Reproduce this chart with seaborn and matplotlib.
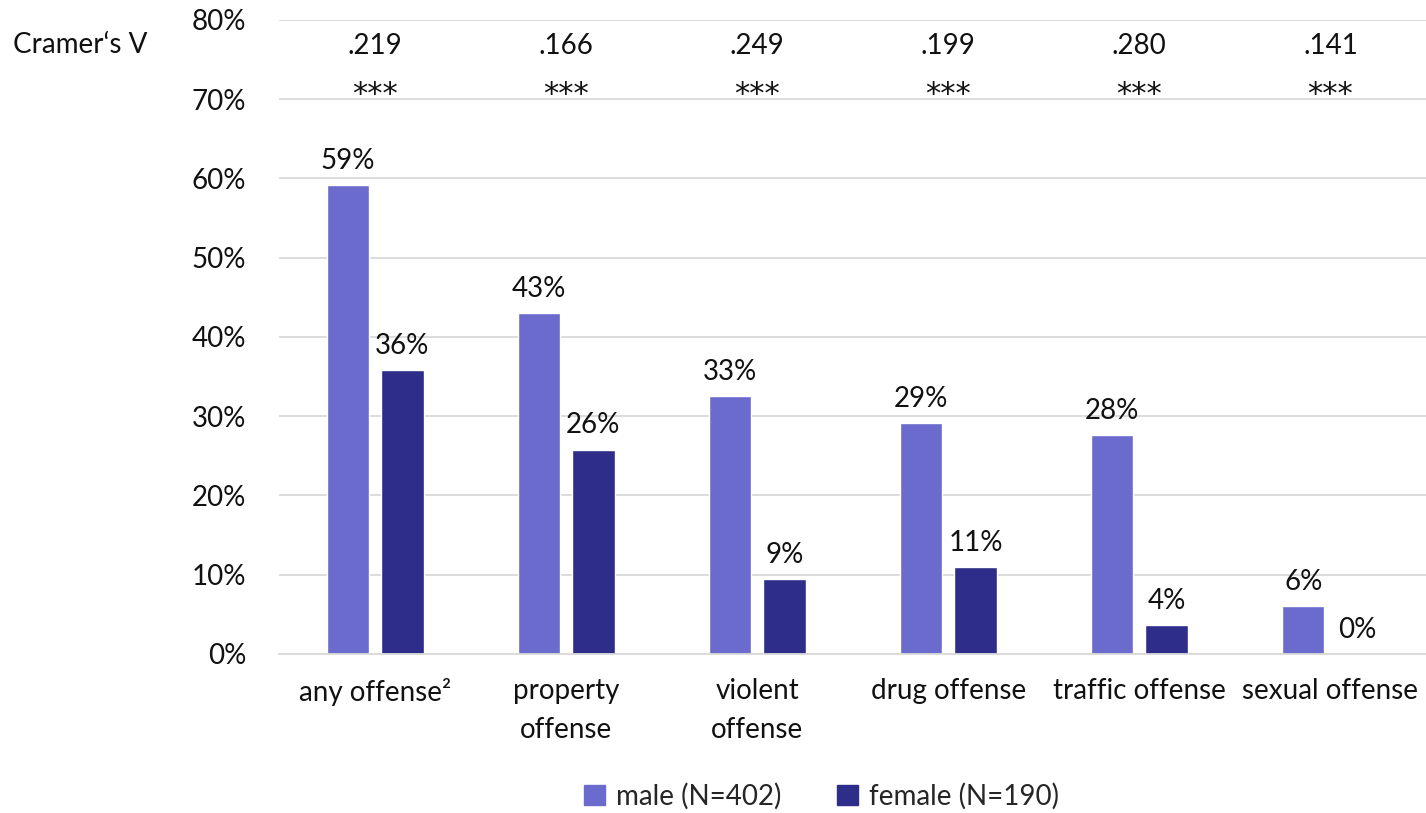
import matplotlib
matplotlib.use("Agg")
import matplotlib.pyplot as plt
import seaborn as sns
import pandas as pd
from matplotlib.patches import Patch

categories = ["any offense²", "property\noffense", "violent\noffense",
              "drug offense", "traffic offense", "sexual offense"]
male = [59.2, 43.0, 32.6, 29.1, 27.6, 6.0]
female = [35.8, 25.8, 9.4, 11.0, 3.7, 0.0]
cramers_v = [".219", ".166", ".249", ".199", ".280", ".141"]
signif = ["***", "***", "***", "***", "***", "***"]
groups = ["male (N=402)", "female (N=190)"]
colors = ["#6B6BCD", "#2E2E8A"]

df = pd.DataFrame({
    "cat": categories * 2,
    "val": male + female,
    "grp": [groups[0]] * len(male) + [groups[1]] * len(female),
})

sns.set_theme(style="white")
plt.rcParams["font.family"] = ["Lato", "DejaVu Sans"]
FS = 20
TXT = "#111111"

fig = plt.figure(figsize=(14.26, 8.13), dpi=100)
ax = fig.add_axes([0.196, 0.1956, 0.804, 0.7798])

sns.barplot(data=df, x="cat", y="val", hue="grp", palette=colors,
            width=0.57, gap=0.22, ax=ax, legend=False, saturation=1)

for c in ax.containers:
    ax.bar_label(c, labels=[f"{v:.0f}%" for v in c.datavalues],
                 padding=8, fontsize=FS, color=TXT)

ax.set_ylim(0, 80)
ax.set_xlim(-0.5, 5.5)
ax.set_yticks(range(0, 81, 10))
ax.set_yticklabels([f"{t}%" for t in range(0, 81, 10)], fontsize=FS, color=TXT)
ax.tick_params(axis="y", length=0, pad=24)
ax.tick_params(axis="x", length=0, pad=17, labelsize=FS, labelcolor=TXT)
for lab in ax.get_xticklabels():
    lab.set_linespacing(1.65)
ax.yaxis.grid(True, color="#D9D9D9", linewidth=1.3)
ax.set_axisbelow(True)
for s in ["left", "right", "top"]:
    ax.spines[s].set_visible(False)
ax.spines["bottom"].set_color("#D9D9D9")
ax.spines["bottom"].set_linewidth(1.3)
ax.set_xlabel("")
ax.set_ylabel("")

for i, (v, s) in enumerate(zip(cramers_v, signif)):
    ax.text(i, 76.7, v, ha="center", va="center", fontsize=FS, color=TXT)
    ax.text(i, 70.6, s, ha="center", va="center", fontsize=FS + 2, color=TXT,
            family="DejaVu Sans")
fig.text(0.056, 0.945, "Cramer‘s V", ha="center", va="center", fontsize=FS, color=TXT)

handles = [Patch(color=c, label=g) for c, g in zip(colors, groups)]
fig.legend(handles=handles, loc="center", bbox_to_anchor=(0.576, 0.021),
           ncol=2, frameon=False, fontsize=FS, handlelength=0.75,
           handleheight=0.75, handletextpad=0.4, columnspacing=2.0)

fig.savefig("out.png", dpi=100)
